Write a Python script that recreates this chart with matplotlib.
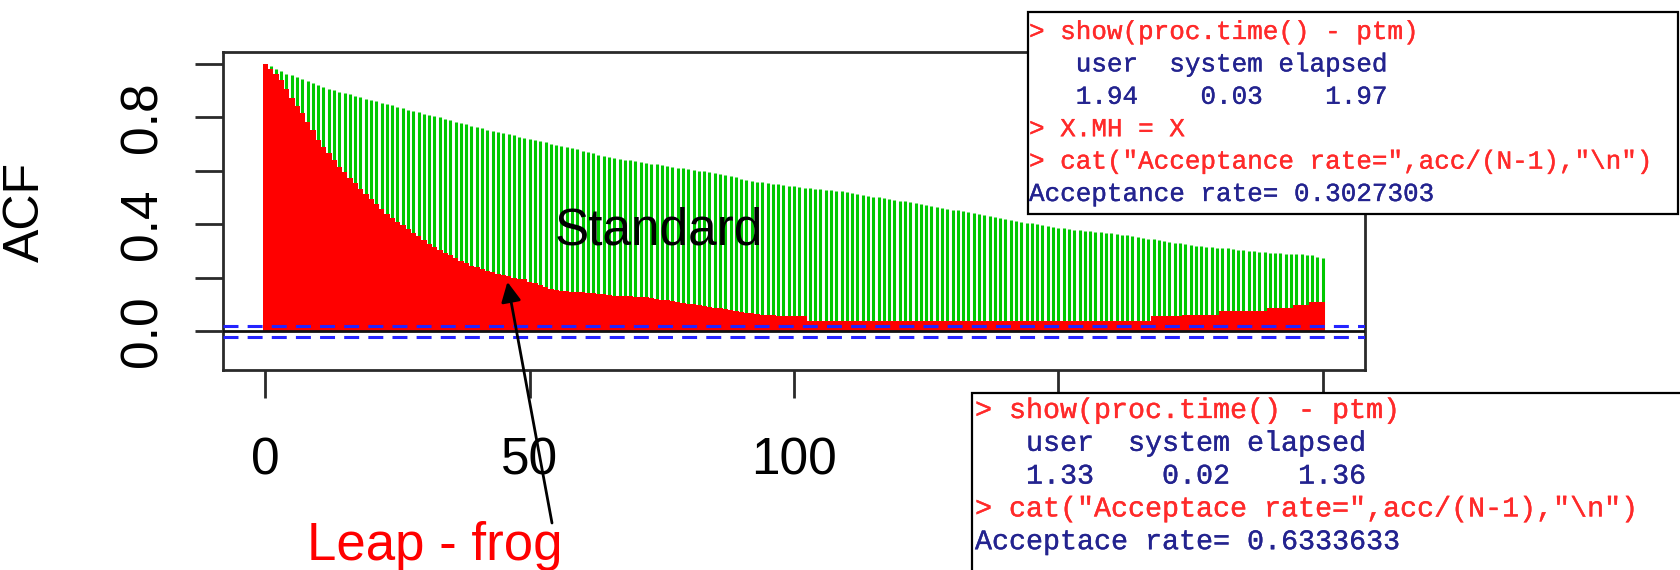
import matplotlib.pyplot as plt
import matplotlib.patheffects as pe
from matplotlib.patches import Rectangle

plt.rcParams['font.family'] = ['Liberation Sans', 'DejaVu Sans']

lags = list(range(201))

# autocorrelation of the plain Metropolis-Hastings chain
acf_standard = [
    1.000, 0.990, 0.981, 0.972, 0.963, 0.957, 0.950, 0.942, 0.935, 0.928,
    0.920, 0.914, 0.907, 0.901, 0.895, 0.891, 0.886, 0.880, 0.876, 0.870,
    0.864, 0.860, 0.854, 0.849, 0.846, 0.840, 0.834, 0.829, 0.824, 0.818,
    0.813, 0.809, 0.804, 0.800, 0.795, 0.789, 0.784, 0.779, 0.774, 0.769,
    0.764, 0.760, 0.754, 0.750, 0.746, 0.741, 0.737, 0.733, 0.728, 0.724,
    0.720, 0.716, 0.711, 0.706, 0.701, 0.697, 0.693, 0.688, 0.684, 0.680,
    0.676, 0.671, 0.666, 0.661, 0.656, 0.651, 0.648, 0.645, 0.642, 0.639,
    0.635, 0.632, 0.629, 0.627, 0.624, 0.621, 0.618, 0.615, 0.612, 0.610,
    0.607, 0.604, 0.601, 0.598, 0.595, 0.592, 0.589, 0.585, 0.580, 0.576,
    0.571, 0.567, 0.563, 0.560, 0.557, 0.554, 0.552, 0.550, 0.548, 0.545,
    0.542, 0.540, 0.537, 0.535, 0.534, 0.532, 0.530, 0.528, 0.526, 0.523,
    0.520, 0.517, 0.514, 0.511, 0.507, 0.504, 0.501, 0.498, 0.495, 0.492,
    0.489, 0.486, 0.484, 0.481, 0.477, 0.473, 0.469, 0.465, 0.461, 0.458,
    0.455, 0.452, 0.449, 0.446, 0.443, 0.439, 0.435, 0.431, 0.427, 0.423,
    0.419, 0.416, 0.413, 0.410, 0.407, 0.404, 0.401, 0.399, 0.395, 0.391,
    0.388, 0.385, 0.382, 0.380, 0.378, 0.376, 0.374, 0.372, 0.370, 0.368,
    0.366, 0.364, 0.361, 0.359, 0.356, 0.353, 0.350, 0.347, 0.344, 0.341,
    0.338, 0.335, 0.332, 0.329, 0.327, 0.324, 0.321, 0.318, 0.316, 0.314,
    0.313, 0.311, 0.310, 0.308, 0.306, 0.304, 0.302, 0.300, 0.298, 0.296,
    0.294, 0.293, 0.292, 0.291, 0.290, 0.289, 0.288, 0.287, 0.285, 0.280,
    0.275,
]

# autocorrelation of the leap-frog (HMC) chain
acf_leapfrog = [
    1.000, 0.982, 0.960, 0.939, 0.905, 0.871, 0.843, 0.815, 0.784, 0.753,
    0.715, 0.690, 0.665, 0.640, 0.616, 0.596, 0.575, 0.554, 0.533, 0.513,
    0.495, 0.476, 0.456, 0.440, 0.425, 0.410, 0.396, 0.382, 0.368, 0.355,
    0.342, 0.328, 0.314, 0.304, 0.294, 0.284, 0.275, 0.265, 0.256, 0.246,
    0.240, 0.234, 0.226, 0.221, 0.216, 0.211, 0.206, 0.201, 0.197, 0.195,
    0.185, 0.180, 0.172, 0.165, 0.160, 0.156, 0.153, 0.150, 0.148, 0.147,
    0.146, 0.145, 0.143, 0.141, 0.139, 0.136, 0.134, 0.133, 0.132, 0.131,
    0.130, 0.129, 0.127, 0.125, 0.122, 0.119, 0.116, 0.113, 0.110, 0.107,
    0.104, 0.101, 0.098, 0.095, 0.092, 0.089, 0.086, 0.083, 0.080, 0.077,
    0.073, 0.070, 0.068, 0.066, 0.063, 0.061, 0.060, 0.058, 0.057, 0.057,
    0.057, 0.057, 0.057, 0.038, 0.038, 0.038, 0.038, 0.038, 0.038, 0.038,
    0.038, 0.038, 0.038, 0.038, 0.038, 0.038, 0.038, 0.038, 0.038, 0.038,
    0.038, 0.038, 0.038, 0.038, 0.038, 0.038, 0.038, 0.038, 0.038, 0.038,
    0.038, 0.038, 0.038, 0.038, 0.038, 0.038, 0.038, 0.038, 0.038, 0.038,
    0.038, 0.038, 0.038, 0.038, 0.038, 0.038, 0.038, 0.038, 0.038, 0.038,
    0.038, 0.038, 0.038, 0.038, 0.038, 0.038, 0.038, 0.038, 0.038, 0.038,
    0.038, 0.038, 0.038, 0.038, 0.038, 0.038, 0.038, 0.038, 0.056, 0.056,
    0.056, 0.056, 0.056, 0.056, 0.063, 0.063, 0.063, 0.063, 0.063, 0.063,
    0.063, 0.075, 0.075, 0.075, 0.075, 0.075, 0.075, 0.075, 0.075, 0.075,
    0.089, 0.089, 0.089, 0.089, 0.089, 0.097, 0.097, 0.097, 0.109, 0.109,
    0.109,
]

conf_limit = 0.022

x_ticks = [0, 50, 100, 150, 200]
y_ticks = [0.0, 0.2, 0.4, 0.6, 0.8, 1.0]
y_ticklabels = ['0.0', '', '0.4', '', '0.8', '']

# R console output pasted next to the plot
console_mh = [
    ('cmd', '> show(proc.time() - ptm)'),
    ('out', '   user  system elapsed'),
    ('out', '   1.94    0.03    1.97'),
    ('cmd', '> X.MH = X'),
    ('cmd', '> cat("Acceptance rate=",acc/(N-1),"\\n")'),
    ('out', 'Acceptance rate= 0.3027303'),
]
console_hmc = [
    ('cmd', '> show(proc.time() - ptm)'),
    ('out', '   user  system elapsed'),
    ('out', '   1.33    0.02    1.36'),
    ('cmd', '> cat("Acceptace rate=",acc/(N-1),"\\n")'),
    ('out', 'Acceptace rate= 0.6333633'),
]

W, H = 1680, 570
fig = plt.figure(figsize=(W / 100, H / 100), dpi=100)
fig.patch.set_facecolor('white')

ax = fig.add_axes([223 / W, 1 - 370 / H, (1365 - 223) / W, (370 - 52) / H])
ax.set_xlim(-8, 208)
ax.set_ylim(-0.144, 1.044)

ax.vlines(lags, 0, acf_standard, colors='#00c800', linewidth=2.2, zorder=2)
ax.bar(lags, acf_leapfrog, width=1.05, color='#ff0000', linewidth=0, zorder=3)
ax.axhline(0, color='#111111', lw=2.0, zorder=4)
for c in (conf_limit, -conf_limit):
    ax.axhline(c, color='#2424ff', lw=2.2, ls=(0, (4.9, 3.0)), zorder=5)

for sp in ax.spines.values():
    sp.set_linewidth(2.0)
    sp.set_color('#2a2a2a')

ax.set_xticks(x_ticks)
ax.set_xticklabels([str(t) for t in x_ticks])
ax.set_yticks(y_ticks)
ax.set_yticklabels(y_ticklabels)
ax.tick_params(length=20, width=2, color='#2a2a2a', labelsize=37, pad=28)
ax.tick_params(axis='y', labelrotation=90, pad=20)
plt.setp(ax.get_yticklabels(), va='center')

fig.text(26 / W, 1 - 212 / H, 'ACF', rotation=90, ha='center', va='center',
         fontsize=36)

ax.text(74.5, 0.323, 'Standard', fontsize=37, ha='center', va='baseline',
        zorder=6)
fig.text(435 / W, 10 / H, 'Leap - frog', color='#ff0000', fontsize=38,
         ha='center', va='baseline')
ax.annotate('', xy=(45.8, 0.185), xycoords='data',
            xytext=(552, H - 523), textcoords='figure pixels',
            arrowprops=dict(arrowstyle='-|>', color='black', lw=2,
                            mutation_scale=30, shrinkA=0, shrinkB=0),
            annotation_clip=False, zorder=6)

text_colors = {'cmd': '#ff2a2a', 'out': '#23238f'}


def console_box(x0, top, x1, bottom, lines, first_row, row_step, size, text_x):
    fig.add_artist(Rectangle((x0 / W, 1 - bottom / H), (x1 - x0) / W,
                             (bottom - top) / H, transform=fig.transFigure,
                             facecolor='white', edgecolor='black', lw=1.6,
                             zorder=10))
    for i, (kind, s) in enumerate(lines):
        y = first_row + i * row_step
        col = text_colors[kind]
        fig.text(text_x / W, 1 - y / H, s, family='Liberation Mono',
                 fontsize=size, color=col, va='baseline', zorder=11,
                 path_effects=[pe.withStroke(linewidth=0.25, foreground=col)])


console_box(1028, 12, 1678, 214, console_mh, 39, 32.4, 18.7, 1029)
console_box(972, 393, 1700, 600, console_hmc, 418, 32.8, 20.4, 975)

fig.savefig('out.png', dpi=100)
